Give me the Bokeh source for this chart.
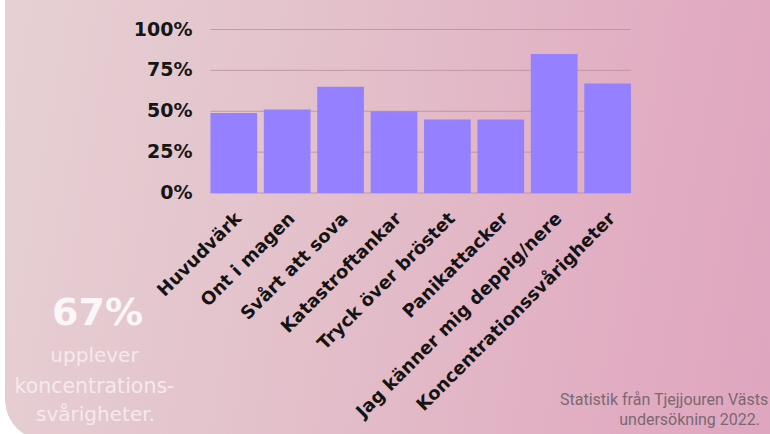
import math
from bokeh.plotting import figure
from bokeh.models import Range1d
from bokeh.core.properties import value
from bokeh.embed import file_html
from bokeh.resources import INLINE

categories = ["Huvudvärk", "Ont i magen", "Svårt att sova", "Katastroftankar",
              "Tryck över bröstet", "Panikattacker", "Jag känner mig deppig/nere",
              "Koncentrationssvårigheter"]
values = [49, 51, 65, 50, 45, 45, 85, 67]
y_ticks = [0, 25, 50, 75, 100]
y_tick_labels = ["0%", "25%", "50%", "75%", "100%"]

W, H = 770, 434
BAR_W = 0.875
# canvas geometry (pixels): first bar centre, category pitch, 0% / 100% lines
X0_PX, PITCH, Y0_PX, Y100_PX = 233.3, 53.4, 192.5, 29.0
ppu = (Y0_PX - Y100_PX) / 100.0
x_range = Range1d(-X0_PX / PITCH, (W - X0_PX) / PITCH)
y_range = Range1d(-(H - Y0_PX) / ppu, 100 + Y100_PX / ppu)

p = figure(x_range=x_range, y_range=y_range, width=W, height=H,
           output_backend="svg", toolbar_location=None,
           x_axis_type=None, y_axis_type=None, min_border=0)
p.styles = {
    "background-image": ("linear-gradient(to right, #ffffff 0px, #ffffff 5px, rgba(255,255,255,0) 5px), "
                         "radial-gradient(circle 40px at 45px 0px, rgba(255,255,255,0) 39.5px, #ffffff 40px), "
                         "linear-gradient(100deg, #e6d1d4 0%, #e3bfca 45%, #e1adc2 80%, #dfa6bf 100%)"),
    "background-size": "100% 100%, 45px 34px, 100% 100%",
    "background-position": "0 0, left bottom, 0 0",
    "background-repeat": "no-repeat",
}
p.background_fill_color = None
p.border_fill_color = None
p.outline_line_color = None
p.xgrid.visible = False
p.ygrid.visible = False

idx = list(range(len(categories)))
left = -BAR_W / 2
right = len(categories) - 1 + BAR_W / 2

# horizontal grid lines at the y ticks, spanning the bars
p.segment(x0=[left] * len(y_ticks), x1=[right] * len(y_ticks), y0=y_ticks, y1=y_ticks,
          line_color="#b8939c", line_width=1, line_alpha=0.85)

p.vbar(x=idx, top=values, width=BAR_W, fill_color="#9581ff", line_color=None)

# y tick labels
p.text(x=[left] * len(y_ticks), y=y_ticks, text=y_tick_labels, text_align="right",
       text_baseline="middle", x_offset=-18, y_offset=-1,
       text_font=value("DejaVu Sans"), text_font_style="bold", text_font_size="19px",
       text_color="#161616")

# category labels, rotated 45 degrees
p.text(x=idx, y=[0] * len(categories), text=categories, angle=math.pi / 4,
       text_align="right", text_baseline="middle", x_offset=4, y_offset=22,
       text_font=value("DejaVu Sans"), text_font_style="bold", text_font_size="18px",
       text_color="#141414")

def dx(cx):
    return x_range.start + cx / W * (x_range.end - x_range.start)

def dy(cy):
    return y_range.end - cy / H * (y_range.end - y_range.start)

side_text = ["67%", "upplever", "koncentrations-", "svårigheter."]
side_pos = [(97, 311), (94, 354), (94, 385.5), (95, 413)]
side_size = ["38px", "20px", "20.5px", "20px"]
side_style = ["bold", "normal", "normal", "normal"]
side_color = ["#fbf6f8", "#f5e9ed", "#f5e9ed", "#f5e9ed"]
p.text(x=[dx(c[0]) for c in side_pos], y=[dy(c[1]) for c in side_pos], text=side_text,
       text_align="center", text_baseline="middle",
       text_font=value("DejaVu Sans"), text_font_size=side_size,
       text_font_style=side_style, text_color=side_color)

source_text = ["Statistik från Tjejjouren Västs", "undersökning 2022."]
source_pos = [(768, 398.5), (759.5, 418.5)]
p.text(x=[dx(c[0]) for c in source_pos], y=[dy(c[1]) for c in source_pos], text=source_text,
       text_align="right", text_baseline="middle",
       text_font=value("Roboto"), text_font_size="16px", text_color="#7b6871")

open("out.html", "w").write(file_html(p, INLINE))
